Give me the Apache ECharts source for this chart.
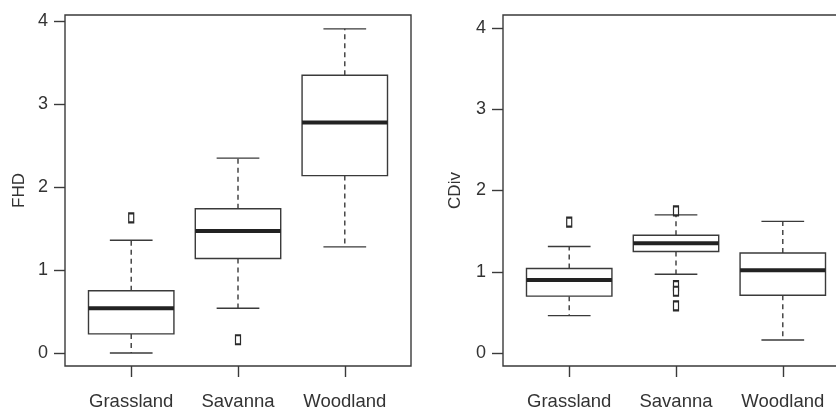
<!DOCTYPE html>
<html>
    <head>
        <meta charset="utf-8">
        <script src="https://cdn.jsdelivr.net/npm/echarts@6/dist/echarts.min.js"></script>
    </head>
    <body>
        <style>
            html, body, #main {
                width: 836px;
                height: 408px;
                margin: 0;
                background: #fff;
            }
        </style>
        <div id="main"></div>
        <script>
            // habitat classes, one box per class
            var categories = ['Grassland', 'Savanna', 'Woodland'];
            var yTicks = [0, 1, 2, 3, 4];

            // [lower whisker, Q1, median, Q3, upper whisker]
            var fhdStats = [
                [0.00, 0.23, 0.54, 0.75, 1.36],
                [0.54, 1.14, 1.47, 1.74, 2.35],
                [1.28, 2.14, 2.78, 3.35, 3.91]
            ];
            var fhdOutliers = [[1.63], [0.16], []];

            var cdivStats = [
                [0.46, 0.70, 0.90, 1.04, 1.31],
                [0.97, 1.25, 1.35, 1.45, 1.70],
                [0.16, 0.71, 1.02, 1.23, 1.62]
            ];
            var cdivOutliers = [[1.61], [1.75, 0.83, 0.76, 0.58], []];

            var LINE = '#3a3a3a';
            var TEXT = '#333';
            var FONT = 'Liberation Sans';

            var chart = echarts.init(document.getElementById('main'));

            function boxData(stats) {
                return stats.map(function (s, i) {
                    return [i + 1].concat(s);
                });
            }
            function outlierData(list) {
                var out = [];
                list.forEach(function (vals, i) {
                    vals.forEach(function (v) { out.push([i + 1, v]); });
                });
                return out;
            }

            function renderBox(params, api) {
                var x = api.value(0);
                var lo = api.coord([x, api.value(1)]);
                var q1 = api.coord([x, api.value(2)]);
                var med = api.coord([x, api.value(3)]);
                var q3 = api.coord([x, api.value(4)]);
                var hi = api.coord([x, api.value(5)]);
                var boxW = api.size([0.8, 0])[0];
                var capW = api.size([0.4, 0])[0];
                var cx = q1[0];
                var solid = { stroke: LINE, lineWidth: 1.4 };
                var dashed = { stroke: LINE, lineWidth: 1.4, lineDash: [5, 4] };
                return {
                    type: 'group',
                    children: [
                        { type: 'line', shape: { x1: cx, y1: q3[1], x2: cx, y2: hi[1] }, style: dashed },
                        { type: 'line', shape: { x1: cx, y1: q1[1], x2: cx, y2: lo[1] }, style: dashed },
                        { type: 'line', shape: { x1: cx - capW / 2, y1: hi[1], x2: cx + capW / 2, y2: hi[1] }, style: solid },
                        { type: 'line', shape: { x1: cx - capW / 2, y1: lo[1], x2: cx + capW / 2, y2: lo[1] }, style: solid },
                        {
                            type: 'rect',
                            shape: { x: cx - boxW / 2, y: q3[1], width: boxW, height: q1[1] - q3[1] },
                            style: { fill: '#fff', stroke: LINE, lineWidth: 1.4 }
                        },
                        {
                            type: 'line',
                            shape: { x1: cx - boxW / 2, y1: med[1], x2: cx + boxW / 2, y2: med[1] },
                            style: { stroke: '#222', lineWidth: 4 }
                        }
                    ]
                };
            }

            function xAxis(gridIndex) {
                return {
                    type: 'value',
                    gridIndex: gridIndex,
                    min: 0.38,
                    max: 3.62,
                    splitLine: { show: false },
                    axisLine: { show: false, onZero: false },
                    axisTick: { show: true, length: 11, customValues: [1, 2, 3], lineStyle: { color: LINE, width: 1.4 } },
                    axisLabel: {
                        customValues: [1, 2, 3],
                        margin: 26,
                        color: TEXT,
                        fontFamily: FONT,
                        fontSize: 18.5,
                        formatter: function (v) { return categories[Math.round(v) - 1]; }
                    }
                };
            }
            function yAxis(gridIndex, name, min, max, gap) {
                return {
                    type: 'value',
                    gridIndex: gridIndex,
                    min: min,
                    max: max,
                    name: name,
                    nameLocation: 'middle',
                    nameGap: gap,
                    nameTextStyle: { color: TEXT, fontFamily: FONT, fontSize: 17 },
                    splitLine: { show: false },
                    axisLine: { show: false, onZero: false },
                    axisTick: { show: true, length: 11, customValues: yTicks, lineStyle: { color: LINE, width: 1.4 } },
                    axisLabel: {
                        customValues: yTicks,
                        margin: 17,
                        color: TEXT,
                        fontFamily: FONT,
                        fontSize: 18
                    }
                };
            }
            function outlierSeries(idx, data) {
                return {
                    type: 'scatter',
                    xAxisIndex: idx,
                    yAxisIndex: idx,
                    symbol: 'rect',
                    symbolSize: [5, 9],
                    itemStyle: { color: '#fff', borderColor: '#2a2a2a', borderWidth: 1.6, opacity: 1 },
                    data: outlierData(data),
                    z: 5
                };
            }

            chart.setOption({
                animation: false,
                grid: [
                    { left: 65, right: 425, top: 15, bottom: 42, outerBoundsMode: 'none', show: true, borderColor: LINE, borderWidth: 1.4, backgroundColor: 'transparent' },
                    { left: 503, right: -13, top: 15, bottom: 42, outerBoundsMode: 'none', show: true, borderColor: LINE, borderWidth: 1.4, backgroundColor: 'transparent' }
                ],
                xAxis: [xAxis(0), xAxis(1)],
                yAxis: [
                    yAxis(0, 'FHD', -0.157, 4.077, 37),
                    yAxis(1, 'CDiv', -0.16, 4.16, 39)
                ],
                series: [
                    {
                        type: 'custom',
                        xAxisIndex: 0,
                        yAxisIndex: 0,
                        renderItem: renderBox,
                        encode: { x: 0, y: [1, 2, 3, 4, 5] },
                        data: boxData(fhdStats)
                    },
                    outlierSeries(0, fhdOutliers),
                    {
                        type: 'custom',
                        xAxisIndex: 1,
                        yAxisIndex: 1,
                        renderItem: renderBox,
                        encode: { x: 0, y: [1, 2, 3, 4, 5] },
                        data: boxData(cdivStats)
                    },
                    outlierSeries(1, cdivOutliers)
                ]
            });
        </script>
    </body>
</html>
